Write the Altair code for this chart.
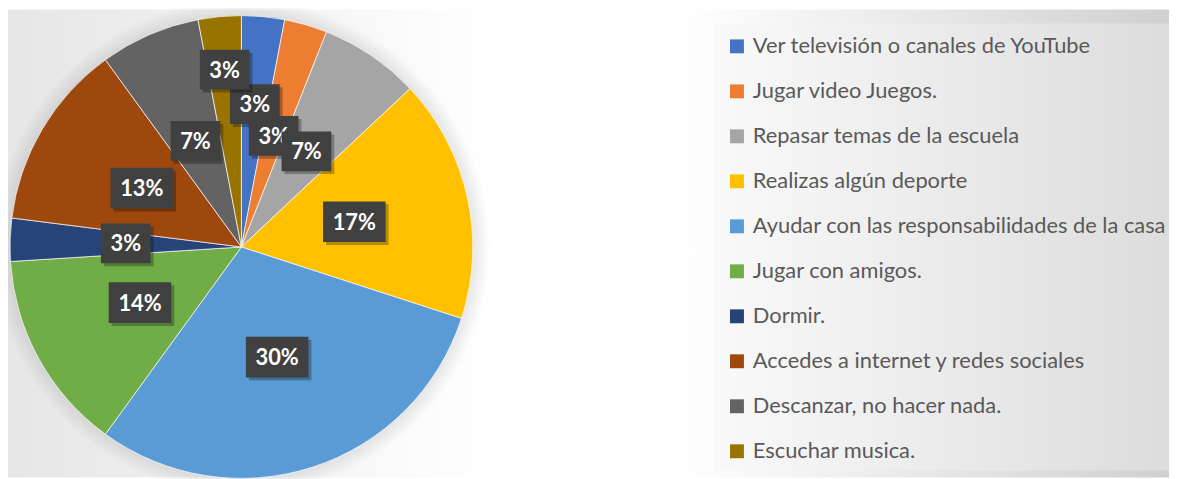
import altair as alt
import pandas as pd

categories = [
    "Ver televisión o canales de YouTube",
    "Jugar video Juegos.",
    "Repasar temas de la escuela",
    "Realizas algún deporte",
    "Ayudar con las responsabilidades de la casa",
    "Jugar con amigos.",
    "Dormir.",
    "Accedes a internet y redes sociales",
    "Descanzar, no hacer nada.",
    "Escuchar musica.",
]
values = [3, 3, 7, 17, 30, 14, 3, 13, 7, 3]
colors = ["#4472C4", "#ED7D31", "#A5A5A5", "#FFC000", "#5B9BD5",
          "#70AD47", "#264478", "#9E480E", "#636363", "#997300"]
labels = [f"{v}%" for v in values]

df = pd.DataFrame({
    "categoria": categories,
    "valor": values,
    "orden": list(range(len(categories))),
    "etiqueta": labels,
})

W, H = 1169, 471
CX, CY, R = 235, 239, 233

bg_grad = alt.LinearGradient(
    gradient="linear", x1=0, y1=0, x2=1, y2=0,
    stops=[alt.GradientStop(color="#e6e6e6", offset=0),
           alt.GradientStop(color="#ffffff", offset=0.42),
           alt.GradientStop(color="#ffffff", offset=0.58),
           alt.GradientStop(color="#d0d0d0", offset=1)])
leg_grad = alt.LinearGradient(
    gradient="linear", x1=0, y1=0, x2=1, y2=0,
    stops=[alt.GradientStop(color="#f9f9f9", offset=0),
           alt.GradientStop(color="#dcdcdc", offset=1)])
shadow_grad = alt.RadialGradient(
    gradient="radial", x1=0.5, y1=0.5, x2=0.5, y2=0.5, r1=0, r2=0.5,
    stops=[alt.GradientStop(color="rgba(0,0,0,0.13)", offset=0.9),
           alt.GradientStop(color="rgba(0,0,0,0)", offset=1)])

one = alt.Data(values=[{"k": 1}])

background = alt.Chart(one).mark_rect(color=bg_grad).encode(
    x=alt.value(0), x2=alt.value(W), y=alt.value(0), y2=alt.value(H))
legend_box = alt.Chart(one).mark_rect(color=leg_grad).encode(
    x=alt.value(711), x2=alt.value(W + 10), y=alt.value(14), y2=alt.value(464))
shadow = alt.Chart(one).mark_arc(color=shadow_grad, outerRadius=250).encode(
    theta=alt.value(6.2832), x=alt.value(CX), y=alt.value(CY))

pie = alt.Chart(df).mark_arc(outerRadius=R, stroke="white", strokeWidth=0.7).encode(
    theta=alt.Theta("valor:Q", stack=True),
    order=alt.Order("orden:Q"),
    color=alt.Color(
        "categoria:N",
        scale=alt.Scale(domain=categories, range=colors),
        legend=alt.Legend(
            orient="none", legendX=723, legendY=26, direction="vertical",
            title=None, symbolType="square", symbolSize=196,
            symbolStrokeWidth=0, labelFont="Lato", labelFontSize=22,
            labelColor="#595959", labelOffset=5, rowPadding=23.3,
            labelLimit=600, padding=0,
        ),
    ),
    x=alt.value(CX), y=alt.value(CY),
)

base = (
    alt.Chart(df)
    .transform_joinaggregate(total="sum(valor)")
    .transform_window(cum="sum(valor)", sort=[alt.SortField("orden")], frame=[None, 0])
    .transform_calculate(
        ang="2*PI*(datum.cum - datum.valor/2)/datum.total",
        rf="datum.orden == 0 ? 0.62 : (datum.orden == 9 ? 0.77 : 0.5)",
    )
    .transform_calculate(px="datum.rf*sin(datum.ang)", py="datum.rf*cos(datum.ang)")
)
xenc = alt.X("px:Q", scale=alt.Scale(domain=[-1, 1], range=[CX - R, CX + R]), axis=None)
yenc = alt.Y("py:Q", scale=alt.Scale(domain=[-1, 1], range=[CY + R, CY - R]), axis=None)

box_small = "M-1.25,-1L1.25,-1L1.25,1L-1.25,1Z"
shadow_small = "M-1.1,-0.85L1.4,-0.85L1.4,1.15L-1.1,1.15Z"
box_big = "M-1.537,-1L1.537,-1L1.537,1L-1.537,1Z"
shadow_big = "M-1.39,-0.854L1.683,-0.854L1.683,1.146L-1.39,1.146Z"

label_layers = []
for i, cat in enumerate(categories):
    small = len(labels[i]) <= 2
    size = 1600 if small else 1681
    sub = base.transform_filter(alt.datum.orden == i)
    label_layers.append(
        sub.mark_point(shape=shadow_small if small else shadow_big, size=size,
                       filled=True, color="#000000", opacity=0.28, strokeWidth=0)
        .encode(x=xenc, y=yenc))
    label_layers.append(
        sub.mark_point(shape=box_small if small else box_big, size=size,
                       filled=True, color="#404040", opacity=1, strokeWidth=0)
        .encode(x=xenc, y=yenc))
    label_layers.append(
        sub.mark_text(font="Lato", fontWeight="bold", fontSize=22, color="white",
                      align="center", baseline="middle", dy=1)
        .encode(x=xenc, y=yenc, text="etiqueta:N"))

chart = alt.layer(background, legend_box, shadow, pie, *label_layers).properties(
    width=W, height=H, padding=0, autosize=alt.AutoSizeParams(type="none")
).configure_view(stroke=None)

chart.save("out.html", embed_options={"renderer": "svg", "actions": False})
